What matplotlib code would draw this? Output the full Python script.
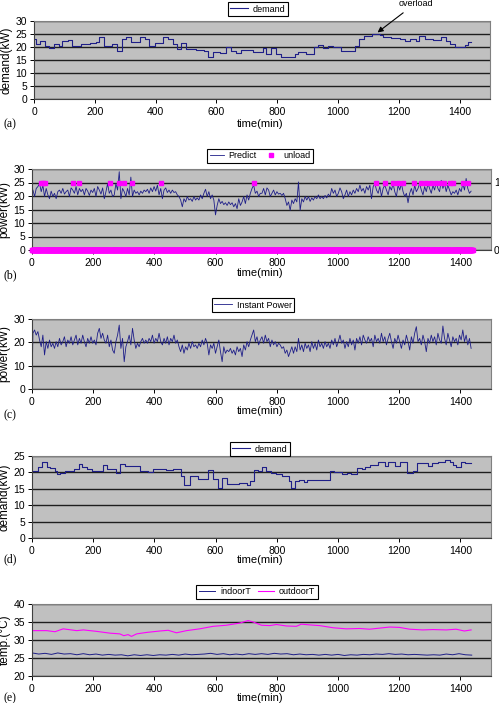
import numpy as np
import matplotlib
matplotlib.use("Agg")
import matplotlib.pyplot as plt

plt.rcParams['font.family'] = ['Liberation Sans', 'DejaVu Sans']

# (a) demand, step changes (time in min, kW)
demand_a_t = [0, 5, 19, 35, 49, 66, 82, 92, 112, 126, 156, 183, 205, 214, 229, 257, 273, 291, 304, 318,
              348, 364, 377, 397, 424, 441, 457, 471, 485, 499, 534, 558, 572, 589, 611, 633, 649, 666, 682, 720,
              753, 764, 781, 797, 814, 857, 868, 896, 920, 934, 951, 967, 983, 1011, 1055, 1069, 1085, 1113, 1137, 1148,
              1175, 1203, 1219, 1236, 1258, 1268, 1285, 1312, 1340, 1356, 1367, 1384, 1417, 1428, 1438]
demand_a_kw = [23.0, 21.2, 22.5, 20.5, 19.7, 21.2, 20.5, 22.3, 22.7, 20.5, 21.0, 21.5, 22.0, 23.7, 20.5, 21.0, 18.6, 23.0, 23.7, 21.8,
               23.7, 23.0, 20.5, 21.5, 23.7, 23.0, 21.0, 19.2, 21.5, 19.2, 18.8, 18.3, 16.3, 18.2, 17.7, 19.9, 18.6, 17.8, 18.8, 18.0,
               19.8, 17.4, 19.8, 17.4, 16.3, 17.2, 18.2, 17.4, 20.0, 20.8, 19.8, 20.5, 19.9, 18.6, 20.3, 23.0, 24.2, 25.1, 24.5, 23.9,
               23.6, 23.0, 22.4, 23.0, 22.2, 24.3, 23.0, 22.6, 24.0, 22.2, 21.0, 20.0, 20.6, 21.8, 21.8]

# (b) predicted power, read every ~5.4 min from 3 to 1435 min
predict_kw = [22.2, 19.8, 22.8, 23.5, 24.6, 21.6, 24.0, 19.8, 22.8, 20.4, 19.0, 21.8, 19.8, 21.0, 19.0, 21.6, 22.2, 21.0, 22.8, 20.7,
              21.6, 22.2, 19.8, 23.0, 22.2, 21.0, 23.5, 20.4, 22.8, 21.6, 22.5, 20.4, 22.8, 21.8, 20.2, 22.2, 21.3, 22.8, 19.8, 23.5,
              22.2, 20.7, 23.0, 19.0, 21.6, 24.6, 21.0, 22.2, 19.8, 20.4, 24.6, 22.2, 29.0, 19.0, 22.8, 21.6, 19.8, 22.8, 20.4, 27.0,
              19.8, 22.2, 21.0, 21.6, 20.4, 21.8, 21.0, 22.2, 21.6, 22.5, 21.0, 23.0, 21.6, 23.5, 21.8, 24.0, 20.4, 22.8, 19.0, 22.2,
              23.0, 21.3, 22.2, 21.0, 22.2, 21.3, 21.6, 20.4, 19.8, 18.5, 16.0, 19.0, 17.8, 19.8, 18.5, 19.0, 18.0, 19.8, 18.5, 19.3,
              18.5, 20.4, 19.0, 21.0, 22.5, 19.8, 21.6, 19.0, 20.4, 18.5, 13.0, 16.5, 19.0, 17.2, 18.0, 16.8, 17.5, 16.5, 17.8, 16.8,
              17.5, 16.0, 17.2, 15.3, 19.0, 16.5, 17.8, 19.8, 17.2, 20.4, 18.5, 21.0, 22.8, 24.0, 21.0, 21.8, 19.8, 21.0,
              21.0, 22.8, 20.4, 23.0, 22.2, 19.8, 21.0, 22.2, 20.4, 21.6, 20.7, 21.0, 20.2, 21.0, 19.0, 16.5, 17.8, 14.7, 18.5, 17.2,
              19.0, 17.8, 25.2, 14.7, 19.0, 17.8, 19.8, 18.5, 19.8, 18.0, 19.3, 18.5, 19.8, 19.0, 20.4, 19.0, 19.8, 19.0, 20.2, 19.3,
              20.7, 19.8, 22.8, 21.0, 22.2, 19.8, 21.0, 23.0, 21.6, 19.0, 20.4, 22.2, 19.8, 21.6, 20.4, 22.2, 21.0, 22.8, 21.6, 24.0,
              21.8, 22.8, 21.0, 23.5, 22.2, 24.0, 19.0, 23.5, 24.6, 22.2, 21.0, 23.5, 19.8, 22.8, 24.0, 22.2, 20.4, 23.5, 22.2, 24.6,
              21.6, 19.8, 24.0, 22.2, 24.6, 21.6, 19.8, 21.0, 17.5, 21.0, 22.8, 20.4, 24.0, 21.6, 22.8, 24.6, 22.2, 20.4, 23.5, 21.6,
              24.6, 22.8, 21.0, 24.0, 22.2, 25.2, 22.8, 21.6, 25.8, 22.8, 24.6, 21.6, 24.0, 22.2, 20.4, 21.6, 21.0, 22.2, 20.4, 22.8,
              21.6, 24.6, 22.2, 26.5, 22.8, 21.0, 21.8]
# minutes where unload = 1 (all other minutes are 0)
unload_on_t = [28, 36, 44, 134, 152, 254, 283, 302, 328, 420, 724, 1125, 1152, 1180, 1196, 1212,
               1250, 1272, 1288, 1305, 1321, 1337, 1348, 1365, 1376, 1408, 1424]

# (c) instant power, first reading at t=0 then every ~5.4 min
instant_kw = [0.0,
              23.9, 25.3, 23.1, 24.6, 21.0, 18.1, 23.1, 14.6, 20.3, 17.4, 21.0, 18.1, 19.6, 17.4, 20.3, 18.1, 21.7, 18.9, 20.3, 22.4,
              18.1, 21.0, 19.6, 22.4, 18.9, 21.0, 23.1, 18.9, 21.7, 19.6, 23.1, 20.3, 18.1, 21.7, 19.6, 22.4, 19.6, 21.0, 18.9, 23.9,
              26.0, 21.7, 23.9, 21.0, 19.6, 23.1, 18.1, 21.0, 16.7, 15.3, 20.3, 23.1, 27.4, 17.4, 21.7, 11.7, 18.1, 20.3, 23.1, 18.9,
              26.0, 21.0, 17.4, 19.6, 18.1, 20.3, 21.7, 19.6, 21.0, 19.6, 21.7, 20.3, 23.1, 19.6, 21.7, 20.3, 23.9, 20.3, 18.9, 21.7,
              19.6, 22.4, 18.9, 21.7, 20.3, 23.1, 19.6, 21.0, 18.1, 16.0, 18.9, 15.3, 18.1, 16.7, 19.6, 17.4, 20.3, 18.1, 18.9, 17.4,
              19.6, 18.1, 21.0, 18.9, 21.7, 19.6, 14.6, 18.9, 17.4, 19.6, 15.3, 18.1, 21.0, 16.0, 11.7, 18.1, 15.3, 16.7, 16.0, 17.4,
              15.3, 16.7, 14.6, 18.1, 16.0, 17.4, 13.9, 18.9, 16.7, 20.3, 18.1, 21.0, 23.1, 25.3, 20.3, 22.4, 18.9, 21.0,
              22.4, 19.6, 23.1, 20.3, 21.7, 18.1, 21.0, 18.9, 20.3, 18.1, 19.6, 18.9, 17.4, 18.1, 15.3, 16.7, 13.9, 16.0, 18.1, 15.3,
              18.1, 16.0, 21.7, 16.7, 18.9, 16.0, 19.6, 17.4, 18.9, 16.0, 20.3, 17.4, 19.6, 16.7, 21.0, 18.1, 19.6, 17.4, 20.3, 18.1,
              19.6, 17.4, 21.0, 18.9, 21.7, 18.1, 20.3, 23.1, 19.6, 21.0, 17.4, 20.3, 18.1, 21.7, 18.9, 21.0, 16.7, 21.7, 19.6, 22.4,
              18.9, 23.1, 21.0, 19.6, 22.4, 20.3, 21.7, 18.1, 23.1, 20.3, 21.7, 19.6, 23.9, 20.3, 22.4, 18.9, 21.7, 23.9, 20.3, 17.4,
              21.7, 19.6, 23.1, 20.3, 17.4, 21.0, 18.9, 23.1, 20.3, 16.7, 22.4, 19.6, 23.9, 26.7, 20.3, 21.7, 18.9, 23.1, 20.3, 16.0,
              21.7, 19.6, 23.1, 20.3, 22.4, 18.9, 23.9, 21.0, 19.6, 27.0, 21.7, 18.9, 23.9, 21.0, 18.1, 22.4, 20.3, 21.7, 18.9, 23.1,
              21.0, 25.3, 20.3, 23.1, 18.9, 21.7, 17.4]

# (d) demand, step changes
demand_d_t = [0, 18, 33, 49, 60, 76, 83, 92, 108, 119, 138, 152, 163, 181, 195, 224, 231, 244, 276, 289,
              303, 320, 352, 379, 396, 439, 460, 488, 496, 515, 542, 574, 591, 607, 621, 636, 677, 704, 711, 726,
              737, 753, 764, 780, 796, 818, 840, 848, 861, 872, 888, 899, 921, 943, 975, 986, 1014, 1030, 1041, 1062,
              1078, 1089, 1105, 1132, 1154, 1165, 1187, 1203, 1224, 1246, 1257, 1273, 1295, 1306, 1327, 1349, 1366, 1376,
              1387, 1403, 1414, 1436]
demand_d_kw = [20.3, 21.7, 23.1, 21.5, 21.2, 20.5, 19.4, 19.7, 20.5, 20.4, 20.9, 22.6, 21.5, 20.9, 20.5, 20.3, 22.4, 20.9, 19.9, 22.6,
               22.1, 22.0, 20.3, 20.1, 20.9, 20.7, 20.9, 18.9, 16.3, 18.9, 18.1, 20.7, 18.1, 15.2, 18.2, 16.5, 16.9, 16.3, 17.5, 20.7,
               20.3, 21.5, 20.5, 19.9, 19.4, 18.9, 17.4, 15.2, 17.4, 17.8, 17.1, 17.8, 17.6, 17.8, 20.3, 20.1, 19.6, 19.9, 19.4, 21.3,
               20.9, 21.7, 22.3, 23.3, 22.1, 23.3, 22.1, 23.3, 19.7, 20.5, 22.8, 23.0, 22.1, 23.0, 23.1, 23.8, 23.1, 22.4,
               21.7, 23.1, 22.9, 22.9]

# (e) temperatures
indoor_T = [26.4, 26.1, 26.3, 26.0, 26.4, 26.1, 26.2, 25.9, 26.2, 25.9, 26.1, 25.8, 26.0, 25.8, 25.9, 25.6, 25.9, 25.7, 25.9, 25.7,
            25.9, 25.8, 26.0, 25.8, 26.1, 25.9, 26.0, 26.1, 26.3, 26.0, 26.2, 25.9, 26.1, 25.9, 26.2, 26.0, 26.2, 26.0, 26.3, 26.1,
            26.2, 25.9, 26.1, 25.9, 26.0, 25.8, 26.0, 25.8, 26.0, 25.7, 25.9, 25.8, 26.0, 25.9, 26.1, 26.0, 26.2, 26.0, 26.1, 25.9,
            26.0, 25.9, 25.8, 25.9, 25.8, 26.1, 25.9, 26.2, 25.9, 25.8]
outdoor_t = [1, 48, 75, 102, 146, 168, 211, 255, 287, 300, 314, 325, 342, 374, 418, 445, 472, 505, 548, 592,
             635, 679, 706, 723, 750, 777, 799, 831, 864, 880, 907, 940, 984, 1027, 1071, 1103, 1136, 1169, 1201, 1234,
             1277, 1310, 1354, 1386, 1413, 1435]
outdoor_T = [32.6, 32.6, 32.3, 33.1, 32.6, 32.8, 32.4, 31.9, 31.7, 31.2, 31.5, 31.0, 31.7, 32.1, 32.5, 32.7, 32.0, 32.6, 33.1, 33.8,
             34.1, 34.7, 35.4, 35.0, 34.1, 34.0, 34.3, 33.9, 33.8, 34.4, 34.2, 34.0, 33.4, 33.1, 33.2, 33.0, 33.3, 33.6, 33.5, 33.0,
             32.8, 32.9, 32.8, 33.0, 32.5, 32.8]

NAVY = '#1e1e88'
MAG = '#ff00ff'
W, H = 499, 703

fig = plt.figure(figsize=(W / 100, H / 100), dpi=100)


def make_ax(x0, x1, ytop, ybot):
    ax = fig.add_axes([x0 / W, 1 - ybot / H, (x1 - x0) / W, (ybot - ytop) / H])
    ax.set_facecolor('#c0c0c0')
    ax.set_xlim(0, 1500)
    ax.set_xticks(range(0, 1500, 200))
    for s in ax.spines.values():
        s.set_color('#808080')
        s.set_linewidth(0.8)
    ax.spines['left'].set_color('#404040')
    ax.spines['bottom'].set_color('#404040')
    ax.yaxis.grid(True, color='#1e1e1e', lw=1.0)
    ax.set_axisbelow(True)
    ax.tick_params(labelsize=7.5, length=3, width=0.7)
    ax.tick_params(axis='x', pad=2.5)
    ax.tick_params(axis='y', pad=2)
    return ax


def finish(ax, ylab, panel, xlabel_y, panel_y):
    ax.set_ylabel(ylab, fontsize=8.5, labelpad=2)
    fig.text(260 / W, 1 - xlabel_y / H, 'time(min)', fontsize=8, ha='center', va='center')
    fig.text(3 / W, 1 - panel_y / H, panel, fontsize=8.5, ha='left', va='center',
             family=['Liberation Serif', 'DejaVu Serif'])


def legend(ax, cx, cy, **kw):
    leg = ax.legend(loc='center', bbox_to_anchor=(cx / W, 1 - cy / H), bbox_transform=fig.transFigure,
                    fontsize=6.5, frameon=True, fancybox=False, edgecolor='black', framealpha=1,
                    borderpad=0.3, handletextpad=0.5, columnspacing=0.8, **kw)
    leg.get_frame().set_linewidth(0.8)
    return leg


# (a)
ax = make_ax(34, 490, 21, 99)
ax.step(demand_a_t, demand_a_kw, where='post', color=NAVY, lw=0.8, label='demand')
ax.set_ylim(0, 30)
ax.set_yticks(range(0, 31, 5))
legend(ax, 258, 9, handlelength=2.0)
ax.annotate('overload', xy=(1130, 25.6), xytext=(416 / W, 1 - 3 / H), textcoords='figure fraction',
            fontsize=6.5, ha='center', va='center',
            arrowprops=dict(arrowstyle='-|>', color='black', lw=0.8, mutation_scale=8, shrinkA=3, shrinkB=0))
finish(ax, 'demand(kW)', '(a)', 124, 124)

# (b)
ax = make_ax(32, 491, 169, 250)
predict_t = np.linspace(3, 1435, len(predict_kw))
ax.plot(predict_t, predict_kw, color=NAVY, lw=0.6, label='Predict')
ax.set_ylim(0, 30)
ax.set_yticks(range(0, 31, 5))
ax2 = ax.twinx()
minutes = np.arange(0, 1441)
unload = np.zeros(len(minutes))
unload[unload_on_t] = 1
ax2.plot(minutes, unload, ls='none', marker='s', ms=2.6, mec=MAG, mfc=MAG, clip_on=False, label='unload')
ax2.set_ylim(0, 1.2)
ax2.set_yticks([0, 1])
ax2.tick_params(labelsize=7.5, length=0, pad=2)
for s in ax2.spines.values():
    s.set_visible(False)
h1, l1 = ax.get_legend_handles_labels()
h2, l2 = ax2.get_legend_handles_labels()
legend(ax2, 260, 156, ncol=2, handles=h1 + h2, labels=l1 + l2, handlelength=1.6)
finish(ax, 'power(kW)', '(b)', 273, 275)

# (c)
ax = make_ax(32, 491, 319, 389)
instant_t = np.concatenate([[0], np.linspace(3, 1435, len(instant_kw) - 1)])
ax.plot(instant_t, instant_kw, color=NAVY, lw=0.6, label='Instant Power')
ax.set_ylim(0, 30)
ax.set_yticks(range(0, 31, 10))
legend(ax, 253, 305, handlelength=2.0)
finish(ax, 'power(kW)', '(c)', 411, 415)

# (d)
ax = make_ax(32, 491, 456, 538)
ax.step(demand_d_t, demand_d_kw, where='post', color=NAVY, lw=0.8, label='demand')
ax.set_ylim(0, 25)
ax.set_yticks(range(0, 26, 5))
legend(ax, 260, 449, handlelength=2.0)
finish(ax, 'demand(kW)', '(d)', 560, 559)

# (e)
ax = make_ax(32, 491, 604, 676)
indoor_time = np.linspace(1, 1437, len(indoor_T))
ax.plot(indoor_time, indoor_T, color=NAVY, lw=0.7, label='indoorT')
ax.plot(outdoor_t, outdoor_T, color=MAG, lw=0.8, label='outdoorT')
ax.set_ylim(20, 40)
ax.set_yticks(range(20, 41, 5))
legend(ax, 257, 592, ncol=2, handlelength=1.8)
finish(ax, 'temp.(°C)', '(e)', 698, 698)

fig.savefig('out.png', dpi=100)
